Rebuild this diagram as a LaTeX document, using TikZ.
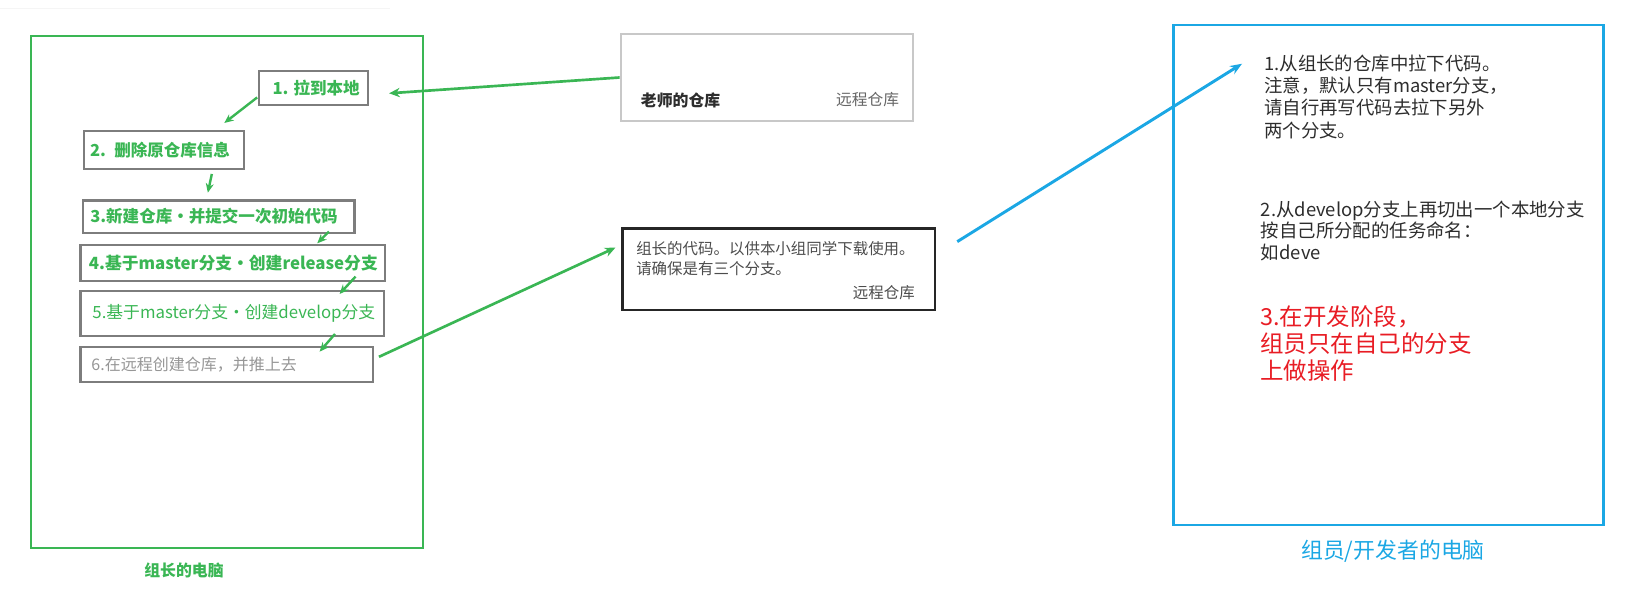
\documentclass[tikz,border=0pt]{standalone}
\usepackage{fontspec}
\setmainfont{Noto Sans CJK SC}
\usetikzlibrary{arrows.meta,calc}
\newdimen\px \px=0.75pt
\definecolor{lgreen}{RGB}{58,182,84}
\definecolor{lblue}{RGB}{27,167,228}
\definecolor{boxgray}{RGB}{125,125,125}
\definecolor{lightbox}{RGB}{200,200,200}
\definecolor{txtgray}{RGB}{150,150,150}
\definecolor{txtdark}{RGB}{45,45,45}
\definecolor{dred}{RGB}{232,28,36}
\tikzset{
  frame/.style={draw, line width=1.9pt, inner sep=0pt},
  stepbox/.style={draw=boxgray, line width=1.7pt, anchor=north west, inner ysep=0pt, align=left,
    font=\fontsize{12.4}{14}\selectfont, text=lgreen},
  garrow/.style={draw=lgreen, line width=1.8pt, -{Stealth[length=7pt,width=6pt]}},
  glong/.style={draw=lgreen, line width=2pt, -{Stealth[length=8pt,width=7pt]}},
  barrow/.style={draw=lblue, line width=2.2pt, -{Stealth[length=9pt,width=7pt]}},
}
\begin{document}
\begin{tikzpicture}[x=0.75pt,y=-0.75pt]
\useasboundingbox (0,0) rectangle (1628,602);
\draw[gray!8, line width=0.8pt] (0,8.5) -- (390,8.5);

% leader's computer
\node[frame, draw=lgreen, minimum width=392\px, minimum height=512\px] (g) at (227,292) {};
\node[font=\fontsize{11.9}{14}\selectfont\bfseries, text=lgreen] (glabel) at (184,570.7) {组长的电脑};

\node[draw=boxgray, line width=1.7pt, minimum width=108.4\px, minimum height=34.6\px,
  font=\fontsize{12.4}{14}\selectfont\bfseries, text=lgreen] (b1) at (313.5,88) {\hspace{4pt}1. 拉到本地};
\node[stepbox, inner xsep=6\px, text width=148\px, minimum height=37.7\px, font=\fontsize{12.4}{14}\selectfont\bfseries] (b2) at (83,130) {2. 删除原仓库信息};
\node[stepbox, inner xsep=7.5\px, text width=256.6\px, minimum height=32.4\px, font=\fontsize{12.4}{14}\selectfont\bfseries] (b3) at (81.7,199.3) {3.新建仓库・并提交一次初始代码};
\node[stepbox, inner xsep=8.5\px, text width=287.7\px, minimum height=36\px, font=\fontsize{12.6}{14}\selectfont\bfseries] (b4) at (79.3,244) {4.基于master分支・创建release分支};
\node[stepbox, inner xsep=12\px, text width=279.4\px, minimum height=45\px, font=\fontsize{12.6}{14}\selectfont] (b5) at (79.3,290) {5.基于master分支・创建develop分支};
\node[stepbox, inner xsep=11\px, text width=270.4\px, minimum height=35\px, font=\fontsize{12}{14}\selectfont, text=txtgray] (b6) at (79.3,345.7) {6.在远程创建仓库，并推上去};

% teacher's repo
\node[draw=lightbox, line width=1.6pt, minimum width=292.6\px, minimum height=87\px] (t) at (767,77.5) {};
\node[anchor=west, font=\fontsize{11.9}{14}\selectfont\bfseries, text=txtdark, inner sep=0pt] (tname) at (640.7,100) {老师的仓库};
\node[anchor=east, font=\fontsize{11.8}{14}\selectfont, text=black!60, inner sep=0pt] (tremote) at (899.3,100) {远程仓库};

% leader's remote repo
\node[draw=black!85, line width=1.9pt, minimum width=312.3\px, minimum height=81.7\px] (l) at (778.85,269.15) {};
\node[anchor=west, align=left, inner sep=0pt, font=\fontsize{11.6}{15}\selectfont, text=black!70] (ltext) at (636,258.3) {组长的代码。以供本小组同学下载使用。\\请确保是有三个分支。};
\node[anchor=east, inner sep=0pt, font=\fontsize{11.6}{15}\selectfont, text=black!70] (lremote) at (915,292.3) {远程仓库};

% member's computer
\node[frame, draw=lblue, minimum width=430\px, minimum height=500\px] (r) at (1388.3,275) {};
\node[font=\fontsize{16.4}{19}\selectfont, text=lblue] (rlabel) at (1393,551.7) {组员/开发者的电脑};
\node[anchor=west, align=left, inner sep=0pt, font=\fontsize{13.8}{16.7}\selectfont, text=txtdark] (r1) at (1264,96.7)
  {1.从组长的仓库中拉下代码。\\注意，默认只有master分支，\\请自行再写代码去拉下另外\\两个分支。};
\node[anchor=west, align=left, inner sep=0pt, font=\fontsize{13.8}{16}\selectfont, text=txtdark] (r2) at (1260.7,230.7)
  {2.从develop分支上再切出一个本地分支\\按自己所分配的任务命名：\\如deve};
\node[anchor=west, align=left, inner sep=0pt, font=\fontsize{17.6}{20.25}\selectfont, text=dred] (r3) at (1260,343.8)
  {3.在开发阶段，\\组员只在自己的分支\\上做操作};

% connectors
\draw[glong] (t.west) -- ($(b1.east)+(20.3,5.3)$);
\draw[garrow] ($(b1.south west)+(-1,-9)$) -- ($(b2.north east)+(-21,-7)$);
\draw[garrow] ($(b2.south)+(47.7,4)$) -- ($(b3.north)+(-10.8,-6.6)$);
\draw[garrow] ($(b3.south east)+(-26.6,-2.4)$) -- ($(b4.north east)+(-69,-0.7)$);
\draw[garrow] ($(b4.south east)+(-30.7,-5.7)$) -- ($(b5.north east)+(-45.4,4)$);
\draw[garrow] ($(b5.south east)+(-50,-3.3)$) -- ($(b6.north east)+(-54.4,6)$);
\draw[glong] ($(b6.east)+(5,-7.5)$) -- ($(l.west)+(-6,-21.5)$);
\draw[barrow] ($(l.east)+(21,-27.5)$) -- ($(r.north west)+(70,40)$);
\end{tikzpicture}
\end{document}
